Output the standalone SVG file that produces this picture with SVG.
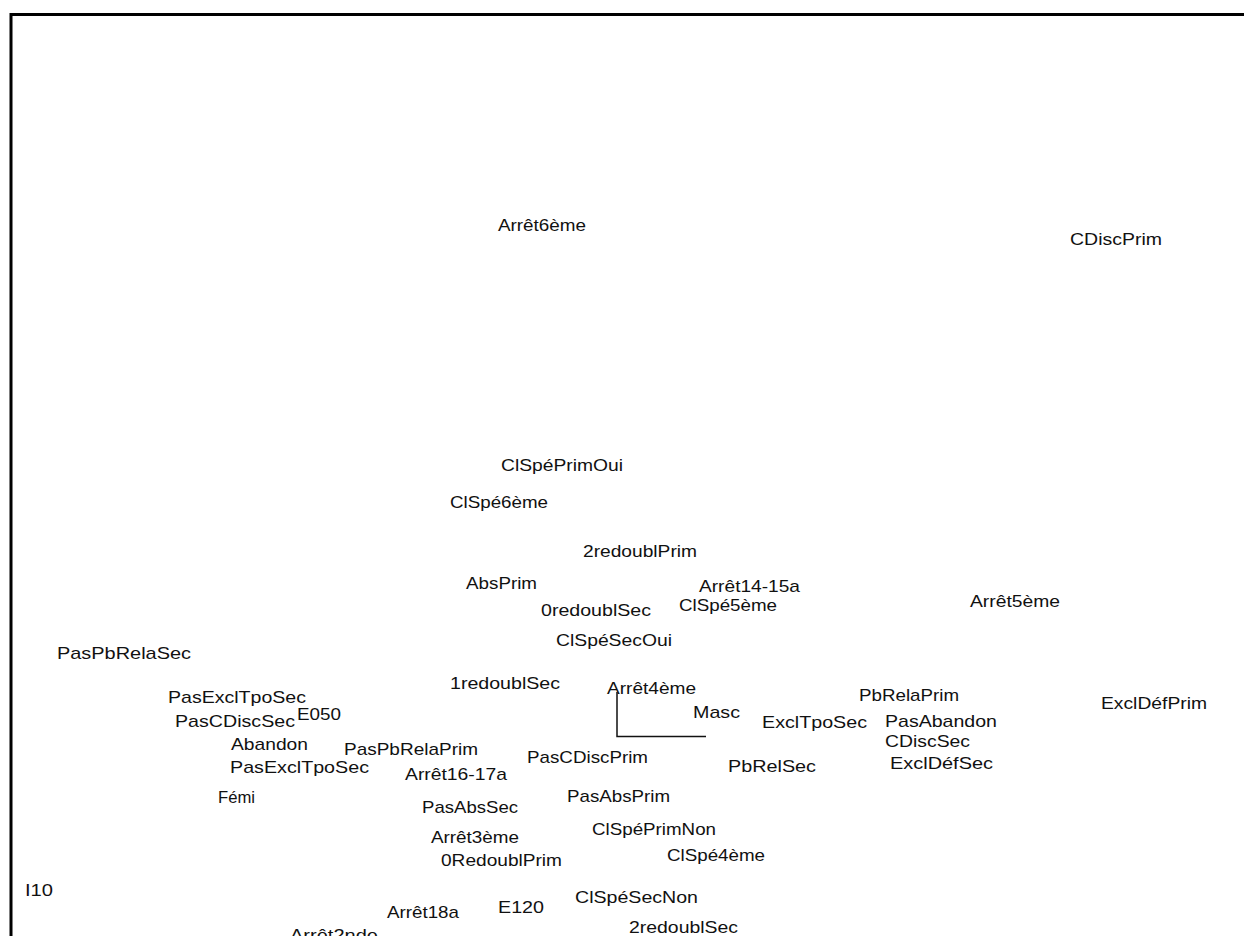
<svg xmlns="http://www.w3.org/2000/svg" width="1244" height="936" viewBox="0 0 1244 936">
<style>
text{font-family:"Liberation Sans",Arial,sans-serif;font-size:17px;fill:#111;}
.frame{fill:none;stroke:#000;stroke-width:3;}
.conn{fill:none;stroke:#111;stroke-width:1.5;}
</style>
<rect width="1244" height="936" fill="#fff"/>
<rect class="frame" x="11" y="14.5" width="1250" height="940"/>
<g id="connectors">
<path class="conn" d="M617 692 V736.5 H706"/>
</g>
<g id="n1"><text x="498" y="231" textLength="88" lengthAdjust="spacingAndGlyphs">Arrêt6ème</text></g>
<g id="n2"><text x="1070" y="245" textLength="92" lengthAdjust="spacingAndGlyphs">CDiscPrim</text></g>
<g id="n3"><text x="501" y="471" textLength="122" lengthAdjust="spacingAndGlyphs">ClSpéPrimOui</text></g>
<g id="n4"><text x="450" y="508" textLength="98" lengthAdjust="spacingAndGlyphs">ClSpé6ème</text></g>
<g id="n5"><text x="583" y="557" textLength="114" lengthAdjust="spacingAndGlyphs">2redoublPrim</text></g>
<g id="n6"><text x="466" y="589" textLength="71" lengthAdjust="spacingAndGlyphs">AbsPrim</text></g>
<g id="n7"><text x="699" y="592" textLength="101" lengthAdjust="spacingAndGlyphs">Arrêt14-15a</text></g>
<g id="n8"><text x="679" y="611" textLength="98" lengthAdjust="spacingAndGlyphs">ClSpé5ème</text></g>
<g id="n9"><text x="541" y="616" textLength="110" lengthAdjust="spacingAndGlyphs">0redoublSec</text></g>
<g id="n10"><text x="970" y="607" textLength="90" lengthAdjust="spacingAndGlyphs">Arrêt5ème</text></g>
<g id="n11"><text x="556" y="646" textLength="116" lengthAdjust="spacingAndGlyphs">ClSpéSecOui</text></g>
<g id="n12"><text x="57" y="659" textLength="134" lengthAdjust="spacingAndGlyphs">PasPbRelaSec</text></g>
<g id="n13"><text x="450" y="689" textLength="110" lengthAdjust="spacingAndGlyphs">1redoublSec</text></g>
<g id="n14"><text x="607" y="694" textLength="89" lengthAdjust="spacingAndGlyphs">Arrêt4ème</text></g>
<g id="n15"><text x="168" y="703" textLength="138" lengthAdjust="spacingAndGlyphs">PasExclTpoSec</text></g>
<g id="n16"><text x="297" y="720" textLength="44" lengthAdjust="spacingAndGlyphs">E050</text></g>
<g id="n17"><text x="859" y="701" textLength="100" lengthAdjust="spacingAndGlyphs">PbRelaPrim</text></g>
<g id="n18"><text x="1101" y="709" textLength="106" lengthAdjust="spacingAndGlyphs">ExclDéfPrim</text></g>
<g id="n19"><text x="693" y="718" textLength="47" lengthAdjust="spacingAndGlyphs">Masc</text></g>
<g id="n20"><text x="762" y="728" textLength="105" lengthAdjust="spacingAndGlyphs">ExclTpoSec</text></g>
<g id="n21"><text x="885" y="727" textLength="112" lengthAdjust="spacingAndGlyphs">PasAbandon</text></g>
<g id="n22"><text x="175" y="727" textLength="120" lengthAdjust="spacingAndGlyphs">PasCDiscSec</text></g>
<g id="n23"><text x="885" y="747" textLength="85" lengthAdjust="spacingAndGlyphs">CDiscSec</text></g>
<g id="n24"><text x="231" y="750" textLength="77" lengthAdjust="spacingAndGlyphs">Abandon</text></g>
<g id="n25"><text x="344" y="755" textLength="134" lengthAdjust="spacingAndGlyphs">PasPbRelaPrim</text></g>
<g id="n26"><text x="527" y="763" textLength="121" lengthAdjust="spacingAndGlyphs">PasCDiscPrim</text></g>
<g id="n27"><text x="890" y="769" textLength="103" lengthAdjust="spacingAndGlyphs">ExclDéfSec</text></g>
<g id="n28"><text x="728" y="772" textLength="88" lengthAdjust="spacingAndGlyphs">PbRelSec</text></g>
<g id="n29"><text x="230" y="773" textLength="139" lengthAdjust="spacingAndGlyphs">PasExclTpoSec</text></g>
<g id="n30"><text x="405" y="780" textLength="102" lengthAdjust="spacingAndGlyphs">Arrêt16-17a</text></g>
<g id="n31"><text x="218" y="803" textLength="37" lengthAdjust="spacingAndGlyphs">Fémi</text></g>
<g id="n32"><text x="567" y="802" textLength="103" lengthAdjust="spacingAndGlyphs">PasAbsPrim</text></g>
<g id="n33"><text x="422" y="813" textLength="96" lengthAdjust="spacingAndGlyphs">PasAbsSec</text></g>
<g id="n34"><text x="592" y="835" textLength="124" lengthAdjust="spacingAndGlyphs">ClSpéPrimNon</text></g>
<g id="n35"><text x="431" y="843" textLength="88" lengthAdjust="spacingAndGlyphs">Arrêt3ème</text></g>
<g id="n36"><text x="441" y="866" textLength="121" lengthAdjust="spacingAndGlyphs">0RedoublPrim</text></g>
<g id="n37"><text x="667" y="861" textLength="98" lengthAdjust="spacingAndGlyphs">ClSpé4ème</text></g>
<g id="n38"><text x="25" y="896" textLength="28" lengthAdjust="spacingAndGlyphs">I10</text></g>
<g id="n39"><text x="575" y="903" textLength="123" lengthAdjust="spacingAndGlyphs">ClSpéSecNon</text></g>
<g id="n40"><text x="498" y="913" textLength="46" lengthAdjust="spacingAndGlyphs">E120</text></g>
<g id="n41"><text x="387" y="918" textLength="72" lengthAdjust="spacingAndGlyphs">Arrêt18a</text></g>
<g id="n42"><text x="629" y="933" textLength="109" lengthAdjust="spacingAndGlyphs">2redoublSec</text></g>
<g id="n43"><text x="290" y="941" textLength="88" lengthAdjust="spacingAndGlyphs">Arrêt2nde</text></g>
</svg>
